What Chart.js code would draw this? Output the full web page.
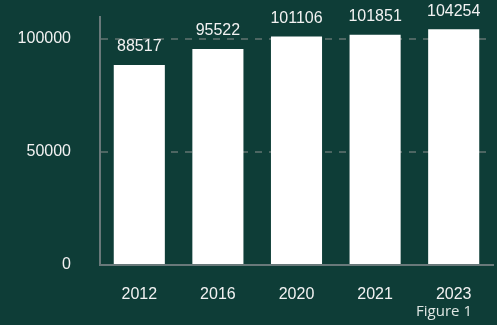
<!DOCTYPE html>
<html>
<head>
<meta charset="utf-8">
<script src="https://cdn.jsdelivr.net/npm/chart.js@4/dist/chart.umd.min.js"></script>
<style>
  html, body { margin: 0; padding: 0; background: #0e3d37; }
  #wrap { position: relative; width: 497px; height: 325px; }
  #nota {
    position: absolute; right: 25px; top: 300px;
    font-family: "Open Sans", sans-serif; font-size: 15px; color: #dfe6e3;
  }
</style>
</head>
<body>
<div id="wrap">
  <canvas id="grafico" width="497" height="325"></canvas>
  <div id="nota">Figure 1</div>
</div>
<script>
let anios = ["2012", "2016", "2020", "2021", "2023"];
let valores = [88517, 95522, 101106, 101851, 104254];
let marcasY = [0, 50000, 100000];

// escribe el valor encima de cada barra
const etiquetasBarras = {
    id: "etiquetasBarras",
    afterDatasetsDraw(chart) {
        let ctx = chart.ctx;
        let meta = chart.getDatasetMeta(0);
        ctx.save();
        ctx.font = "16px 'Liberation Sans', Arial, sans-serif";
        ctx.fillStyle = "#f2f2f2";
        ctx.textAlign = "center";
        ctx.textBaseline = "middle";
        meta.data.forEach((barra, i) => {
            ctx.fillText(valores[i], barra.x, barra.y - 18);
        });
        ctx.restore();
    }
};

let ctx = document.getElementById("grafico").getContext("2d");
new Chart(ctx, {
    type: "bar",
    data: {
        labels: anios,
        datasets: [{
            data: valores,
            backgroundColor: "#ffffff",
            barPercentage: 0.65,
            categoryPercentage: 1
        }]
    },
    options: {
        responsive: false,
        animation: false,
        layout: { padding: { left: 0, right: 4, top: 17, bottom: 0 } },
        plugins: {
            legend: { display: false },
            tooltip: { enabled: false }
        },
        scales: {
            x: {
                grid: { display: false, drawTicks: false },
                border: { color: "#69797a", width: 2 },
                ticks: {
                    color: "#f2f2f2",
                    padding: 20,
                    font: { family: "'Liberation Sans', Arial, sans-serif", size: 16 }
                },
                afterFit(scale) { scale.height = 60; }
            },
            y: {
                min: 0,
                max: 109700,
                afterBuildTicks(scale) {
                    scale.ticks = marcasY.map(v => ({ value: v }));
                },
                grid: {
                    drawTicks: false,
                    lineWidth: 2,
                    color: c => c.tick && c.tick.value === 0 ? "rgba(0,0,0,0)" : "#4d6662"
                },
                border: { color: "#69797a", width: 2, dash: [7, 7] },
                ticks: {
                    color: "#f2f2f2",
                    padding: 29,
                    font: { family: "'Liberation Sans', Arial, sans-serif", size: 16 },
                    callback: v => String(v)
                },
                afterFit(scale) {
                    scale.width = 100;
                    scale.paddingTop = 0;
                    scale.paddingBottom = 0;
                }
            }
        }
    },
    plugins: [etiquetasBarras]
});
</script>
</body>
</html>
